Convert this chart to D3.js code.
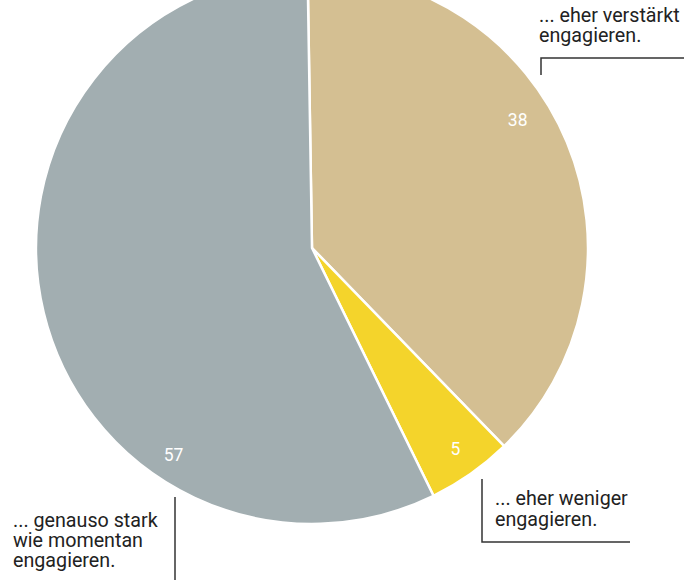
<!DOCTYPE html>
<html>
<head>
<meta charset="utf-8">
<script src="https://cdn.jsdelivr.net/npm/d3@7"></script>
<style>
  html, body { margin: 0; padding: 0; background: #fff; }
  svg { display: block; }
  .note { font-family: Roboto, "Noto Sans", sans-serif; font-size: 19.7px; fill: #222; }
  .val { font-family: Roboto, "Noto Sans", sans-serif; font-size: 17.5px; font-weight: 400; fill: #fff; }
</style>
</head>
<body>
<svg id="chart" width="698" height="580"></svg>
<script>
// Share of respondents (percent) by how they plan to engage
const categories = ["... eher verstärkt engagieren.", "... eher weniger engagieren.", "... genauso stark wie momentan engagieren."];
const values = [38, 5, 57];
const colors = ["#d4bf92", "#f4d42b", "#a2aeb1"];

// Annotation text lines per category
const noteLines = [
  ["... eher verstärkt", "engagieren."],
  ["... eher weniger", "engagieren."],
  ["... genauso stark", "wie momentan", "engagieren."]
];

const W = 698, H = 580;
const cx = 312, cy = 248, R = 276;
const svg = d3.select("#chart");

const pie = d3.pie().sort(null).value(d => d)
  .startAngle(-0.016).endAngle(2 * Math.PI - 0.016);
const arcs = pie(values);
const arc = d3.arc().innerRadius(0).outerRadius(R);

const g = svg.append("g").attr("transform", `translate(${cx},${cy})`);

g.selectAll("path.slice")
  .data(arcs)
  .join("path")
  .attr("class", "slice")
  .attr("d", arc)
  .attr("fill", (d, i) => colors[i])
  .attr("stroke", "#fff")
  .attr("stroke-width", 2.5)
  .attr("stroke-linejoin", "round");

// Where each value label sits inside its slice (fraction of the sweep, radius)
const labelPlace = [
  { t: 0.432, r: 242 },
  { t: 0.48, r: 247 },
  { t: 0.292, r: 249 }
];

g.selectAll("text.val")
  .data(arcs)
  .join("text")
  .attr("class", "val")
  .attr("text-anchor", "middle")
  .attr("dominant-baseline", "central")
  .attr("transform", (d, i) => {
    const p = labelPlace[i];
    const a = d.startAngle + (d.endAngle - d.startAngle) * p.t;
    return `translate(${p.r * Math.sin(a)},${-p.r * Math.cos(a)})`;
  })
  .text(d => d.data);

// Annotation blocks with bracket leaders
const notes = [
  { x: 539, y: 22, lh: 20, path: [[541, 75], [541, 58], [684, 58]] },
  { x: 495, y: 505, lh: 21, path: [[482, 479], [482, 542], [630, 542]] },
  { x: 13, y: 527, lh: 20, path: [[175, 497], [175, 580]] }
];

const line = d3.line();
notes.forEach((n, i) => {
  svg.append("path")
    .attr("d", line(n.path))
    .attr("fill", "none")
    .attr("stroke", "#333")
    .attr("stroke-width", 1.5);
  const t = svg.append("text").attr("class", "note").attr("x", n.x).attr("y", n.y);
  t.selectAll("tspan")
    .data(noteLines[i])
    .join("tspan")
    .attr("x", n.x)
    .attr("dy", (d, j) => j === 0 ? 0 : n.lh)
    .text(d => d);
});
</script>
</body>
</html>
